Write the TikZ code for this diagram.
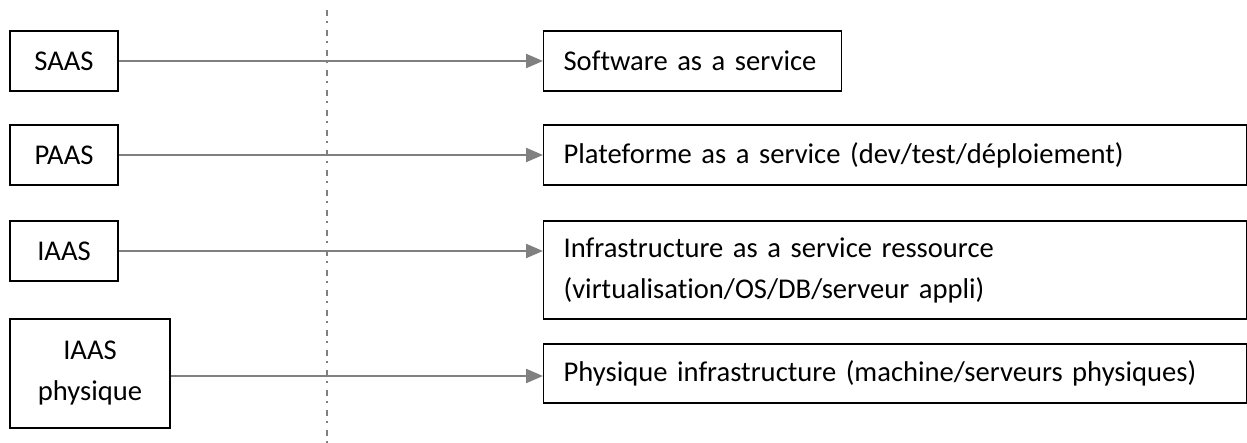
\documentclass[tikz,border=0pt]{standalone}
\usepackage{fontspec}
\setmainfont[Ligatures=NoCommon]{Carlito}
\usepackage{tikz}
\usetikzlibrary{arrows.meta}
\usetikzlibrary{positioning, calc}

\begin{document}
\begin{tikzpicture}[
    x=0.5pt, y=-0.5pt,
    every node/.style={font=\fontsize{14.3}{20.5}\selectfont},
    block/.style={draw=black, line width=0.6pt, inner sep=0pt},
    layer/.style={block, minimum width=54pt, minimum height=30pt, align=center},
    desc/.style={block, anchor=west, inner xsep=10pt, minimum height=30pt, align=left},
    link/.style={gray, line width=1.1pt, -{Triangle[length=8.5pt, width=7pt]}},
    axis/.style={gray, line width=0.6pt, dash pattern=on 3pt off 2.5pt on 1pt off 3.5pt}
]
    \useasboundingbox (0,0) rectangle (1247,443);

    % left column
    \draw  (64,61) node[layer] (saas) {SAAS};
    \draw  (64,155) node[layer] (paas) {PAAS};
    \draw  (64,251) node[layer] (iaas) {IAAS};
    \draw  (90,373.5) node[layer, minimum width=80pt, minimum height=54.5pt] (iaasp) {IAAS\\physique};

    % right column
    \draw  (543,61) node[desc, text width=129pt] (soft) {Software as a service};
    \draw  (543,155) node[desc, text width=331.5pt] (plat) {Plateforme as a service (dev/test/déploiement)};
    \draw  (543,270) node[desc, text width=331.5pt, minimum height=49pt] (infra) {Infrastructure as a service ressource\\(virtualisation/OS/DB/serveur appli)};
    \draw  (543,373.5) node[desc, text width=331.5pt, minimum height=29.5pt] (phys) {Physique infrastructure (machine/serveurs physiques)};

    % separator
    \draw[axis] (327,10) -- (327,443);

    % links
    \draw[link] (saas.east) -- (soft.west);
    \draw[link] (paas.east) -- (plat.west);
    \draw[link] (iaas.east) -- (iaas.east -| infra.west);
    \draw[link] ($(iaasp.east)+(0,2.5)$) -- ($(iaasp.east -| phys.west)+(0,2.5)$);

\end{tikzpicture}
\end{document}
